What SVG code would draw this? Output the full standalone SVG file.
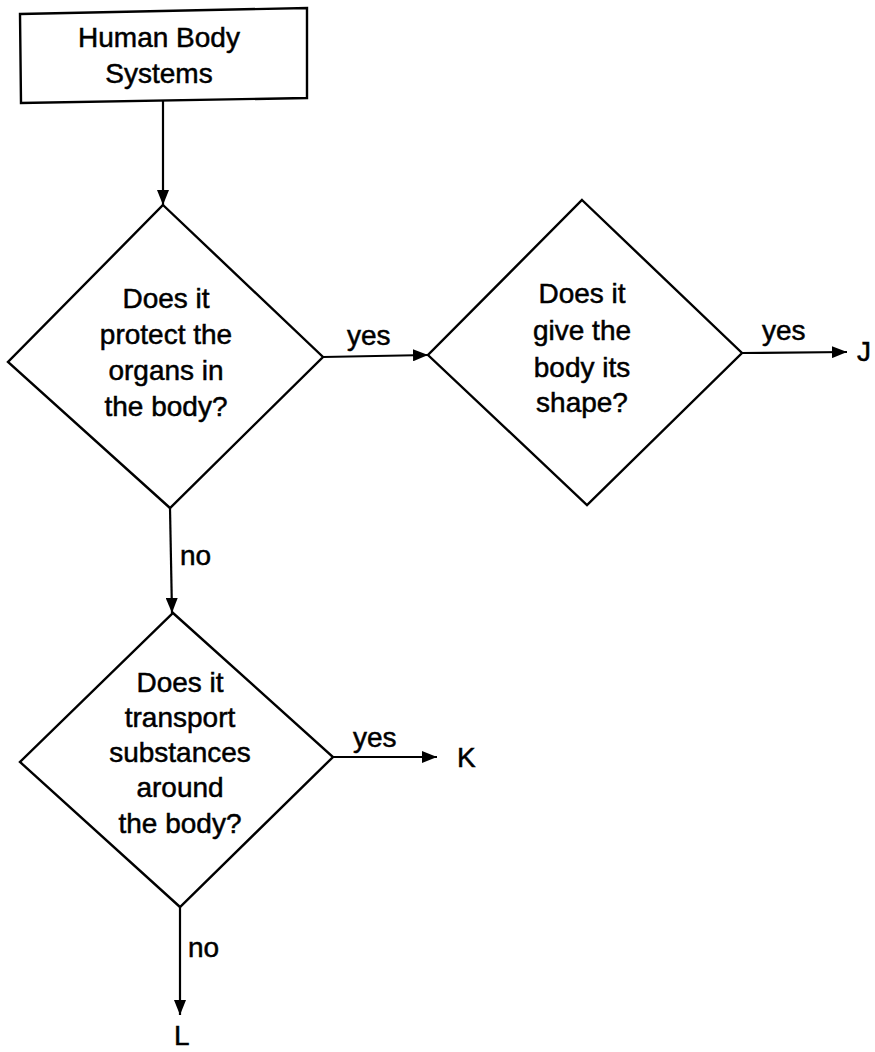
<svg xmlns="http://www.w3.org/2000/svg" width="875" height="1052" viewBox="0 0 875 1052">
<defs>
<style>
.shape{fill:#fff;stroke:#000;stroke-width:2.4}
.t{font-family:"Liberation Sans",Arial,sans-serif;font-size:28px;fill:#000;stroke:#000;stroke-width:0.5;text-anchor:middle}
.l{font-family:"Liberation Sans",Arial,sans-serif;font-size:28px;fill:#000;stroke:#000;stroke-width:0.5}
.c{fill:none;stroke:#000;stroke-width:2.2}
</style>
<marker id="ah" viewBox="0 0 15 12" refX="15" refY="6" markerWidth="15" markerHeight="12" markerUnits="userSpaceOnUse" orient="auto">
<path d="M0,0 L15,6 L0,12 Z" fill="#000"/>
</marker>
</defs>
<rect width="875" height="1052" fill="#fff"/>
<g id="connectors">
<line class="c" x1="163" y1="101" x2="163" y2="205" marker-end="url(#ah)"/>
<line class="c" x1="323" y1="357" x2="428" y2="355" marker-end="url(#ah)"/>
<line class="c" x1="742" y1="353" x2="847" y2="352" marker-end="url(#ah)"/>
<line class="c" x1="170" y1="508" x2="172" y2="613" marker-end="url(#ah)"/>
<line class="c" x1="333" y1="757" x2="437" y2="757" marker-end="url(#ah)"/>
<line class="c" x1="180" y1="907" x2="180" y2="1015" marker-end="url(#ah)"/>
<text class="l" x="347" y="345">yes</text>
<text class="l" x="762" y="340">yes</text>
<text class="l" x="180" y="565">no</text>
<text class="l" x="353" y="747">yes</text>
<text class="l" x="188" y="957">no</text>
</g>
<g id="start">
<polygon class="shape" points="20,14 307,8 307,98 21,103"/>
<text class="t" x="159" y="47">Human Body</text>
<text class="t" x="159" y="83">Systems</text>
</g>
<g id="q1">
<polygon class="shape" points="163,205 323,357 170,508 8,362"/>
<text class="t" x="166" y="308">Does it</text>
<text class="t" x="166" y="344">protect the</text>
<text class="t" x="166" y="380">organs in</text>
<text class="t" x="166" y="416">the body?</text>
</g>
<g id="q2">
<polygon class="shape" points="582,200 742,353 587,505 428,355"/>
<text class="t" x="582" y="303">Does it</text>
<text class="t" x="582" y="340">give the</text>
<text class="t" x="582" y="377">body its</text>
<text class="t" x="582" y="412">shape?</text>
</g>
<g id="q3">
<polygon class="shape" points="173,613 333,757 180,907 20,762"/>
<text class="t" x="180" y="692">Does it</text>
<text class="t" x="180" y="727">transport</text>
<text class="t" x="180" y="762">substances</text>
<text class="t" x="180" y="797">around</text>
<text class="t" x="180" y="833">the body?</text>
</g>
<g id="J"><text class="l" x="857" y="361">J</text></g>
<g id="K"><text class="l" x="457" y="767">K</text></g>
<g id="L"><text class="l" x="174" y="1045">L</text></g>
</svg>
